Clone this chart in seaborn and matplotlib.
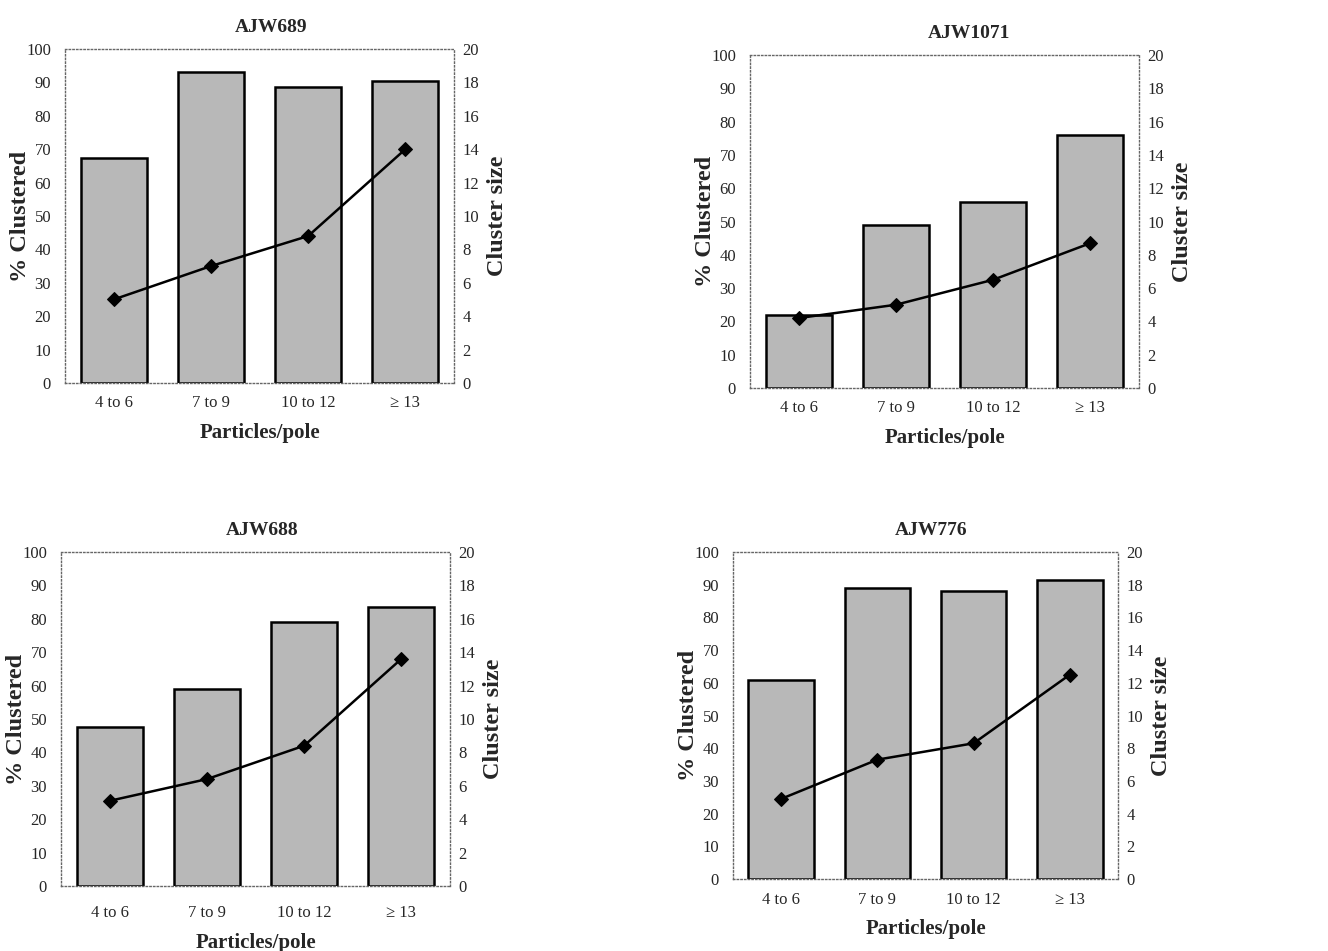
import numpy as np
import pandas as pd
import matplotlib
matplotlib.use("Agg")
import matplotlib.pyplot as plt
import seaborn as sns

categories = ["4 to 6", "7 to 9", "10 to 12", "\u2265 13"]
titles = ["AJW689", "AJW1071", "AJW688", "AJW776"]

pct_689 = [67.5, 93, 88.5, 90.5]
size_689 = [5.0, 7.0, 8.8, 14.0]
pct_1071 = [22, 49, 56, 76]
size_1071 = [4.2, 5.0, 6.5, 8.7]
pct_688 = [47.5, 59, 79, 83.5]
size_688 = [5.1, 6.4, 8.4, 13.6]
pct_776 = [61, 89, 88, 91.5]
size_776 = [4.9, 7.3, 8.3, 12.5]

pct_all = [pct_689, pct_1071, pct_688, pct_776]
size_all = [size_689, size_1071, size_688, size_776]

sns.set_theme(style="white")
plt.rcParams['font.family'] = ['Liberation Serif', 'DejaVu Serif']

fig = plt.figure(figsize=(13.28, 9.51), dpi=100)
W, H = 1328, 951
boxes = [(65, 49, 454, 383), (750, 55, 1139, 388), (61, 552, 450, 886), (733, 552, 1118, 879)]
title_x = [271, 969, 262, 931]
xpads = [9, 9, 14, 9]

for i in range(4):
    l, t, r, b = boxes[i]
    aw = r - l
    ax = fig.add_axes([l / W, 1 - b / H, aw / W, (b - t) / H])
    df = pd.DataFrame({"cat": categories, "pct": pct_all[i]})
    sns.barplot(data=df, x="cat", y="pct", ax=ax, color="#b8b8b8", saturation=1,
                width=0.68, edgecolor="black", linewidth=1.8)
    ax.set_ylim(0, 100)
    ax.set_xlim(-0.5, 3.5)
    ax.set_yticks(np.arange(0, 101, 10))
    ax.set_xlabel("Particles/pole", fontsize=15, fontweight="bold", labelpad=8)
    ax.set_ylabel("% Clustered", fontsize=17.5, fontweight="bold")
    ax.yaxis.set_label_coords(-34 / aw, 0.5)
    ax.set_title(titles[i], fontsize=14, fontweight="bold", pad=12,
                 x=(title_x[i] - l) / aw)
    ax.tick_params(axis="both", labelsize=12, length=0)
    ax.tick_params(axis="y", pad=10)
    ax.tick_params(axis="x", pad=xpads[i])
    for s in ax.spines.values():
        s.set_linestyle(":")
        s.set_color("#666666")
        s.set_linewidth(1.0)

    ax2 = ax.twinx()
    sns.lineplot(x=np.arange(4), y=size_all[i], ax=ax2, color="black", marker="D",
                 markersize=7.5, linewidth=1.8, markeredgecolor="black")
    ax2.set_ylim(0, 20)
    ax2.set_xlim(-0.5, 3.5)
    ax2.set_yticks(np.arange(0, 21, 2))
    ax2.set_ylabel("Cluster size", fontsize=17.5, fontweight="bold")
    ax2.yaxis.set_label_coords(1 + 33 / aw, 0.5)
    ax2.tick_params(axis="y", labelsize=12, length=0, pad=6)
    for s in ax2.spines.values():
        s.set_visible(False)
    ax2.grid(False)
    ax.grid(False)

fig.savefig("out.png", dpi=100)
